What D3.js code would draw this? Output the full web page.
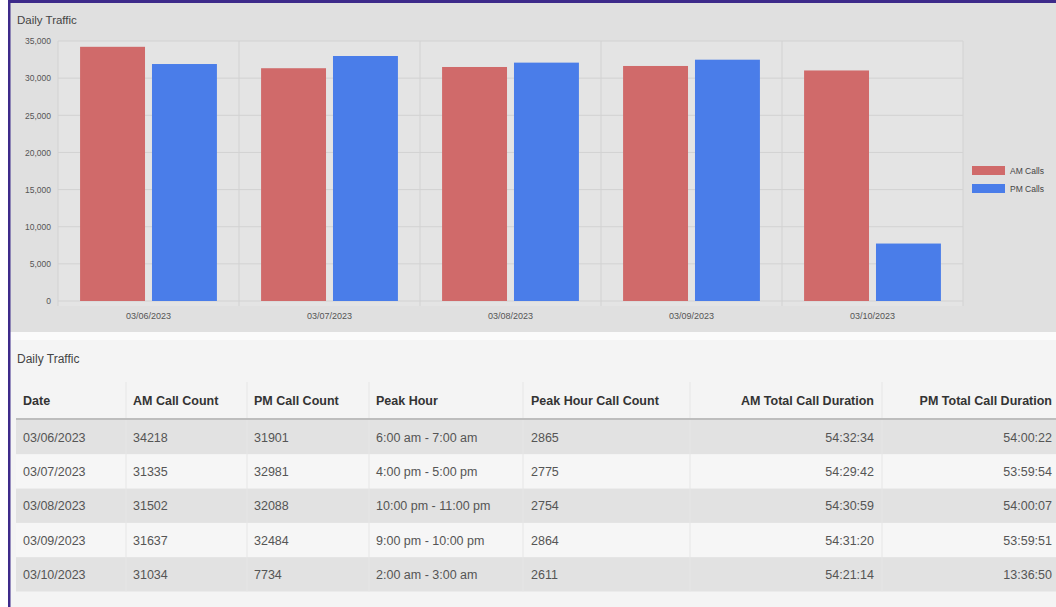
<!DOCTYPE html>
<html><head><meta charset="utf-8">
<script src="https://cdn.jsdelivr.net/npm/d3@7"></script>
<style>
html,body{margin:0;padding:0;background:#fff;}
svg{display:block;font-family:"Liberation Sans",Arial,sans-serif;}
</style></head>
<body>
<svg id="c" width="1056" height="607"></svg>
<script>
const dates = ["03/06/2023","03/07/2023","03/08/2023","03/09/2023","03/10/2023"];
const amCalls = [34218,31335,31502,31637,31034];
const pmCalls = [31901,32981,32088,32484,7734];
const peakHours = ["6:00 am - 7:00 am","4:00 pm - 5:00 pm","10:00 pm - 11:00 pm","9:00 pm - 10:00 pm","2:00 am - 3:00 am"];
const peakCounts = [2865,2775,2754,2864,2611];
const amDuration = ["54:32:34","54:29:42","54:30:59","54:31:20","54:21:14"];
const pmDuration = ["54:00:22","53:59:54","54:00:07","53:59:51","13:36:50"];
const seriesNames = ["AM Calls","PM Calls"];
const yTicks = [0,5000,10000,15000,20000,25000,30000,35000];
const headers = ["Date","AM Call Count","PM Call Count","Peak Hour","Peak Hour Call Count","AM Total Call Duration","PM Total Call Duration"];
const title = "Daily Traffic";

const colors = ["#d06a6a","#4a7de9"];
const svg = d3.select("#c");

// panels
svg.append("rect").attr("x",10).attr("y",3).attr("width",1046).attr("height",329).attr("fill","#e0e0e0");
svg.append("rect").attr("x",10).attr("y",332).attr("width",1046).attr("height",8).attr("fill","#fbfbfb");
svg.append("rect").attr("x",10).attr("y",340).attr("width",1046).attr("height",267).attr("fill","#f4f4f4");
// border
svg.append("rect").attr("x",8).attr("y",0).attr("width",1048).attr("height",3).attr("fill","#3d2a8a");
svg.append("rect").attr("x",8).attr("y",0).attr("width",2.5).attr("height",607).attr("fill","#3d2a8a");

svg.append("text").attr("x",17).attr("y",24).attr("font-size",11.5).attr("fill","#444").text(title);

const x0 = d3.scaleBand().domain(dates).range([58,963]).paddingInner(0).paddingOuter(0);
const x1 = d3.scaleBand().domain(seriesNames).range([x0.bandwidth()*0.122, x0.bandwidth()*0.878]).paddingInner(0.097);
const y = d3.scaleLinear().domain([0,35000]).range([301,41]);

// plot area
svg.append("rect").attr("x",58).attr("y",41).attr("width",905).attr("height",265).attr("fill","#e4e4e4");
// gridlines
svg.append("g").selectAll("line").data(yTicks).join("line")
  .attr("x1",58).attr("x2",963).attr("y1",d=>y(d)).attr("y2",d=>y(d))
  .attr("stroke","#d2d2d2").attr("stroke-width",1);
svg.append("g").selectAll("line").data(d3.range(dates.length+1)).join("line")
  .attr("x1",i=>58+i*x0.step()).attr("x2",i=>58+i*x0.step()).attr("y1",41).attr("y2",306)
  .attr("stroke","#d2d2d2").attr("stroke-width",1);

// y axis
const yAxis = d3.axisLeft(y).tickValues(yTicks).tickFormat(d3.format(",")).tickSize(0).tickPadding(7);
const ya = svg.append("g").attr("transform","translate(58,0)").call(yAxis);
ya.select(".domain").remove();
ya.selectAll("text").attr("font-size",8.5).attr("fill","#555").attr("font-family","Liberation Sans, Arial, sans-serif");

// x axis
const xAxis = d3.axisBottom(x0).tickSize(0).tickPadding(9);
const xa = svg.append("g").attr("transform","translate(0,304)").call(xAxis);
xa.select(".domain").remove();
xa.selectAll("text").attr("font-size",9).attr("fill","#555").attr("font-family","Liberation Sans, Arial, sans-serif");

// bars
const rows = dates.map((d,i)=>({date:d, vals:[amCalls[i],pmCalls[i]]}));
const g = svg.append("g").selectAll("g").data(rows).join("g")
  .attr("transform",d=>`translate(${x0(d.date)},0)`);
g.selectAll("rect").data(d=>d.vals.map((v,j)=>({k:seriesNames[j],v,j}))).join("rect")
  .attr("x",d=>x1(d.k)).attr("width",x1.bandwidth())
  .attr("y",d=>y(d.v)).attr("height",d=>y(0)-y(d.v))
  .attr("fill",d=>colors[d.j]);

// legend
const lg = svg.append("g").selectAll("g").data(seriesNames).join("g")
  .attr("transform",(d,i)=>`translate(972,${166+i*18})`);
lg.append("rect").attr("width",33).attr("height",9).attr("fill",(d,i)=>colors[i]);
lg.append("text").attr("x",38).attr("y",8).attr("font-size",8.5).attr("fill","#444").text(d=>d);

// table
svg.append("text").attr("x",17).attr("y",363).attr("font-size",12).attr("fill","#444").text(title);
const colX = [23,133,254,376,531,874,1052];
const colAnchor = ["start","start","start","start","start","end","end"];
const sepX = [126,247,369,523,690,882];
const tableLeft = 16, tableRight = 1056;
const headTop = 382, headH = 37, rowH = 34.3;
const rowTop = headTop+headH+1;

// rows backgrounds
const tableRows = dates.map((d,i)=>[d, String(amCalls[i]), String(pmCalls[i]), peakHours[i], String(peakCounts[i]), amDuration[i], pmDuration[i]]);
svg.append("g").selectAll("rect").data(tableRows).join("rect")
  .attr("x",tableLeft).attr("width",tableRight-tableLeft)
  .attr("y",(d,i)=>rowTop+i*rowH).attr("height",rowH)
  .attr("fill",(d,i)=>i%2===0?"#e2e2e2":"#f6f6f6");
// separators
svg.append("g").selectAll("line").data(sepX).join("line")
  .attr("x1",d=>d).attr("x2",d=>d).attr("y1",headTop).attr("y2",rowTop+5*rowH)
  .attr("stroke","#e6e6e6").attr("stroke-width",1);
// header bottom border
svg.append("rect").attr("x",tableLeft).attr("y",headTop+headH-1).attr("width",tableRight-tableLeft).attr("height",2).attr("fill","#bdbdbd");
// header texts
svg.append("g").selectAll("text").data(headers).join("text")
  .attr("x",(d,i)=>colX[i]).attr("y",headTop+headH/2+4.5)
  .attr("text-anchor",(d,i)=>colAnchor[i])
  .attr("font-size",12.5).attr("font-weight","bold").attr("fill","#333").text(d=>d);
// row texts
const tr = svg.append("g").selectAll("g").data(tableRows).join("g")
  .attr("transform",(d,i)=>`translate(0,${rowTop+i*rowH+rowH/2+4.5})`);
tr.selectAll("text").data(d=>d).join("text")
  .attr("x",(d,i)=>colX[i]).attr("text-anchor",(d,i)=>colAnchor[i])
  .attr("font-size",12.5).attr("fill","#555").text(d=>d);
</script>
</body></html>
